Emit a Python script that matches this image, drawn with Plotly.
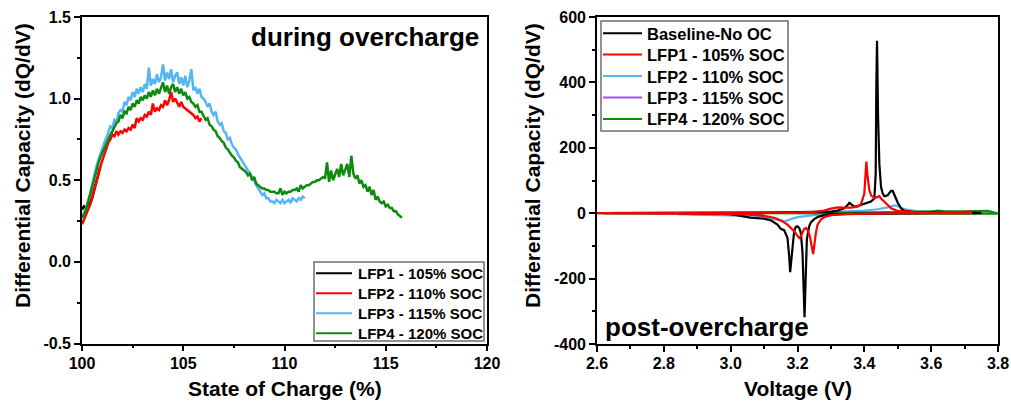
import plotly.graph_objects as go

# ---------------- Left panel data: during overcharge ----------------
soc_lfp1 = [100.0, 100.1, 100.2, 100.3, 100.4, 100.5, 100.6, 100.7, 100.8, 100.9]
dqdv_lfp1 = [0.32, 0.34, 0.33, 0.35, 0.36, 0.39, 0.44, 0.49, 0.54, 0.58]

soc_lfp2 = [round(100.0 + 0.1 * i, 1) for i in range(60)]
dqdv_lfp2 = [0.23, 0.26, 0.28, 0.31, 0.35, 0.39, 0.44, 0.49, 0.54, 0.58,
             0.62, 0.66, 0.70, 0.73, 0.75, 0.78, 0.77, 0.80, 0.78, 0.80,
             0.79, 0.81, 0.80, 0.82, 0.81, 0.84, 0.82, 0.88, 0.86, 0.88,
             0.87, 0.90, 0.89, 0.92, 0.90, 0.97, 0.92, 0.94, 0.93, 0.96,
             0.95, 0.99, 0.96, 0.99, 1.04, 0.98, 1.00, 0.97, 0.95, 0.98,
             0.95, 0.94, 0.93, 0.92, 0.91, 0.90, 0.88, 0.89, 0.86, 0.88]

soc_lfp3 = [round(100.0 + 0.1 * i, 1) for i in range(111)]
dqdv_lfp3 = [0.28, 0.30, 0.33, 0.37, 0.42, 0.47, 0.53, 0.58, 0.62, 0.66,
             0.70, 0.73, 0.76, 0.80, 0.83, 0.82, 0.87, 0.86, 0.91, 0.93,
             0.92, 0.98, 0.96, 1.01, 0.99, 1.04, 1.01, 1.06, 1.03, 1.07,
             1.04, 1.09, 1.06, 1.19, 1.08, 1.12, 1.09, 1.15, 1.10, 1.13,
             1.21, 1.11, 1.16, 1.12, 1.18, 1.10, 1.14, 1.16, 1.09, 1.13,
             1.08, 1.14, 1.07, 1.11, 1.18, 1.05, 1.07, 1.03, 1.06, 1.01,
             1.00, 0.98, 0.95, 0.97, 0.92, 0.90, 0.92, 0.86, 0.84, 0.85,
             0.80, 0.79, 0.75, 0.76, 0.72, 0.70, 0.69, 0.66, 0.64, 0.62,
             0.60, 0.58, 0.56, 0.54, 0.52, 0.50, 0.47, 0.45, 0.43, 0.41,
             0.42, 0.39, 0.39, 0.37, 0.37, 0.36, 0.38, 0.37, 0.36, 0.38,
             0.36, 0.37, 0.38, 0.36, 0.39, 0.38, 0.37, 0.39, 0.38, 0.40,
             0.39]

soc_lfp4 = [round(100.0 + 0.1 * i, 1) for i in range(159)]
dqdv_lfp4 = [0.27, 0.29, 0.32, 0.36, 0.41, 0.46, 0.51, 0.56, 0.60, 0.64,
             0.67, 0.70, 0.73, 0.76, 0.78, 0.80, 0.83, 0.85, 0.86, 0.90,
             0.88, 0.92, 0.91, 0.95, 0.93, 0.97, 0.95, 0.99, 0.97, 1.01,
             0.99, 1.02, 1.00, 1.04, 1.01, 1.05, 1.02, 1.06, 1.03, 1.07,
             1.10, 1.04, 1.08, 1.03, 1.07, 1.09, 1.04, 1.07, 1.03, 1.06,
             1.02, 1.04, 1.00, 1.01, 0.98, 0.97, 0.95, 0.96, 0.92, 0.92,
             0.89, 0.87, 0.88, 0.84, 0.83, 0.81, 0.80, 0.77, 0.76, 0.74,
             0.73, 0.70, 0.69, 0.67, 0.65, 0.64, 0.62, 0.61, 0.58, 0.57,
             0.56, 0.55, 0.53, 0.54, 0.50, 0.52, 0.48, 0.47, 0.46, 0.45,
             0.45, 0.44, 0.44, 0.43, 0.43, 0.43, 0.42, 0.42, 0.45, 0.41,
             0.43, 0.42, 0.43, 0.43, 0.44, 0.44, 0.45, 0.43, 0.47, 0.45,
             0.46, 0.47, 0.47, 0.48, 0.49, 0.49, 0.50, 0.50, 0.51, 0.52,
             0.51, 0.61, 0.49, 0.56, 0.50, 0.54, 0.57, 0.52, 0.60, 0.53,
             0.56, 0.60, 0.52, 0.65, 0.54, 0.51, 0.53, 0.48, 0.50, 0.46,
             0.47, 0.43, 0.46, 0.41, 0.44, 0.38, 0.40, 0.37, 0.36, 0.37,
             0.34, 0.35, 0.33, 0.33, 0.31, 0.31, 0.29, 0.28, 0.27]

left_names = ["LFP1 - 105% SOC", "LFP2 - 110% SOC", "LFP3 - 115% SOC", "LFP4 - 120% SOC"]

# ---------------- Right panel data: post-overcharge ----------------
v_base = [2.62, 2.7, 2.8, 2.9, 3.0, 3.1, 3.2, 3.25, 3.3, 3.32, 3.34, 3.35, 3.355, 3.36,
          3.37, 3.38, 3.39, 3.40, 3.41, 3.42, 3.43, 3.434, 3.436, 3.438, 3.441, 3.445,
          3.45, 3.455, 3.46, 3.47, 3.475, 3.48, 3.485, 3.49, 3.5, 3.51, 3.52, 3.55,
          3.6, 3.65, 3.7, 3.75,
          3.75, 3.6, 3.5, 3.4, 3.35, 3.3, 3.28, 3.26, 3.25, 3.24, 3.235, 3.228,
          3.224, 3.221, 3.219, 3.215, 3.21, 3.205, 3.2, 3.195, 3.19, 3.183, 3.178,
          3.175, 3.17, 3.16, 3.15, 3.14, 3.12, 3.1, 3.06, 3.03, 3.0, 2.9, 2.8, 2.62]
dq_base = [0, 0, 0, 0.5, 1, 2, 3, 3, 5, 8, 15, 25, 32, 28,
           20, 22, 25, 28, 32, 36, 45, 120, 400, 527, 300, 150,
           80, 60, 52, 55, 62, 68, 68, 55, 32, 15, 7, 3,
           2, 2, 3, 2,
           0, 0, 0, -1, -2, -3, -6, -12, -18, -28, -40, -80,
           -200, -318, -250, -120, -60, -45, -40, -42, -55, -120, -180,
           -130, -75, -52, -48, -35, -22, -17, -14, -8, -3, -0.5, 0, 0]

v_lfp1 = [2.6, 2.9, 3.0, 3.1, 3.2, 3.25, 3.28, 3.3, 3.32, 3.34, 3.36, 3.38, 3.39,
          3.40, 3.403, 3.406, 3.41, 3.415, 3.42, 3.43, 3.44, 3.445, 3.45, 3.46,
          3.47, 3.48, 3.5, 3.55, 3.6, 3.65, 3.7, 3.72,
          3.72, 3.5, 3.4, 3.35, 3.3, 3.28, 3.27, 3.26, 3.255, 3.25, 3.247, 3.244,
          3.238, 3.232, 3.226, 3.22, 3.215, 3.21, 3.205, 3.2, 3.19, 3.17, 3.15,
          3.13, 3.1, 3.05, 3.0, 2.6]
dq_lfp1 = [0, 0, 0.5, 1, 2, 4, 8, 14, 18, 17, 17, 20, 28,
           60, 120, 158, 110, 70, 55, 45, 50, 52, 45, 35,
           25, 15, 7, 3, 2, 2, 4, 5,
           0, 0, -1, -3, -6, -12, -20, -35, -60, -100, -125, -110,
           -75, -55, -45, -48, -60, -70, -76, -68, -55, -35, -22,
           -14, -8, -4, -2, 0]

v_lfp2 = [2.84, 2.9, 3.0, 3.05, 3.1, 3.13, 3.15, 3.163, 3.18, 3.2, 3.25, 3.3, 3.4, 3.6,
          3.6, 3.65, 3.56, 3.53, 3.51, 3.5, 3.49, 3.47, 3.44, 3.4, 3.35, 3.3, 3.2]
dq_lfp2 = [-3, -4, -5, -8, -12, -18, -22, -25, -18, -12, -6, -3, -1, 0,
           4, 3, 6, 10, 16, 22, 24, 18, 12, 8, 5, 3, 0]

v_lfp3 = [2.88, 2.95, 3.0, 3.05, 3.1]
dq_lfp3 = [-3, -4, -4, -3, -2]

v_lfp4 = [2.6, 3.0, 3.3, 3.5, 3.55, 3.6, 3.62, 3.64, 3.7, 3.75, 3.77,
          3.8, 3.6, 3.4, 3.2, 3.0]
dq_lfp4 = [0, 0, 1, 3, 4, 6, 8, 6, 6, 7, 7,
           -1, -1, -1, -1, 0]

right_names = ["Baseline-No OC", "LFP1 - 105% SOC", "LFP2 - 110% SOC",
               "LFP3 - 115% SOC", "LFP4 - 120% SOC"]

left_colors = ["#000000", "#ff0000", "#55b6f3", "#0e8a0e"]
right_colors = ["#000000", "#ff0000", "#55b6f3", "#a14ff0", "#0e8a0e"]

W, H = 1011, 402
FONT = "Arial, Liberation Sans, sans-serif"

fig = go.Figure()

left_series = [(soc_lfp1, dqdv_lfp1), (soc_lfp2, dqdv_lfp2),
               (soc_lfp3, dqdv_lfp3), (soc_lfp4, dqdv_lfp4)]
for (x, y), name, col in zip(left_series, left_names, left_colors):
    fig.add_trace(go.Scatter(x=x, y=y, mode="lines", name=name, showlegend=False,
                             line=dict(color=col, width=2.5), xaxis="x", yaxis="y"))

right_series = [(v_base, dq_base), (v_lfp1, dq_lfp1), (v_lfp2, dq_lfp2),
                (v_lfp3, dq_lfp3), (v_lfp4, dq_lfp4)]
right_order = [2, 3, 4, 0, 1]
for i in right_order:
    x, y = right_series[i]
    fig.add_trace(go.Scatter(x=x, y=y, mode="lines", name=right_names[i], showlegend=False,
                             line=dict(color=right_colors[i], width=2.2), xaxis="x2", yaxis="y2"))


def px(x):
    return x / W


def py(y):
    return 1 - y / H


tickfont = dict(family=FONT, size=16, color="black", weight="bold")
axis_common = dict(showline=True, linecolor="black", linewidth=1.6, mirror=True,
                   ticks="outside", ticklen=6, tickwidth=1.5, tickcolor="black",
                   showgrid=False, zeroline=False, tickfont=tickfont,
                   ticklabeloverflow="allow",
                   automargin=False, fixedrange=True)

fig.update_layout(
    template="none",
    width=W, height=H,
    margin=dict(l=0, r=0, t=0, b=0),
    paper_bgcolor="white", plot_bgcolor="white",
    showlegend=False,
    xaxis=dict(domain=[px(82), px(487)], range=[100, 120], anchor="y",
               tickmode="array", tickvals=[100, 105, 110, 115, 120],
               ticktext=["100", "105", "110", "115", "120"], ticklabelstandoff=-2,
               minor=dict(ticks="outside", ticklen=3, tickwidth=1.5, tickcolor="black",
                          tickmode="array", tickvals=[102.5, 107.5, 112.5, 117.5]),
               **axis_common),
    yaxis=dict(domain=[py(343.5), py(17)], range=[-0.5, 1.5], anchor="x",
               tickmode="array", tickvals=[-0.5, 0, 0.5, 1.0, 1.5],
               ticktext=["-0.5", "0.0", "0.5", "1.0", "1.5"],
               minor=dict(ticks="outside", ticklen=3, tickwidth=1.5, tickcolor="black",
                          tickmode="array", tickvals=[-0.25, 0.25, 0.75, 1.25]),
               **axis_common),
    xaxis2=dict(domain=[px(597), px(998)], range=[2.6, 3.8], anchor="y2",
                tickmode="array", tickvals=[2.6, 2.8, 3.0, 3.2, 3.4, 3.6, 3.8],
                ticktext=["2.6", "2.8", "3.0", "3.2", "3.4", "3.6", "3.8"], ticklabelstandoff=-2,
                minor=dict(ticks="outside", ticklen=3, tickwidth=1.5, tickcolor="black",
                           tickmode="array", tickvals=[2.7, 2.9, 3.1, 3.3, 3.5, 3.7]),
                **axis_common),
    yaxis2=dict(domain=[py(344), py(17)], range=[-400, 600], anchor="x2",
                tickmode="array", tickvals=[-400, -200, 0, 200, 400, 600],
                ticktext=["-400", "-200", "0", "200", "400", "600"],
                minor=dict(ticks="outside", ticklen=3, tickwidth=1.5, tickcolor="black",
                           tickmode="array", tickvals=[-300, -100, 100, 300, 500]),
                **axis_common),
)

annotations = []
shapes = []


def add_text(text, x, y, size, xanchor="center", yanchor="middle", angle=0):
    annotations.append(dict(text=text, x=px(x), y=py(y), xref="paper", yref="paper",
                            xanchor=xanchor, yanchor=yanchor, showarrow=False,
                            textangle=angle,
                            font=dict(family=FONT, size=size, color="black", weight="bold")))


# Axis titles
add_text("State of Charge (%)", 284.5, 388, 21)
add_text("Voltage (V)", 798, 388, 21)
add_text("Differential Capacity (dQ/dV)", 22, 166, 21, angle=-90)
add_text("Differential Capacity (dQ/dV)", 532, 166, 21, angle=-90)

# Panel labels
add_text("during overcharge", 481, 37, 26, xanchor="right")
add_text("post-overcharge", 603, 327, 26, xanchor="left")

# Legend boxes (drawn manually)
shapes.append(dict(type="rect", xref="paper", yref="paper", x0=px(314), x1=px(484),
                   y0=py(341), y1=py(262), line=dict(color="#6e6e6e", width=1.5),
                   fillcolor="white", layer="above"))
left_rows = [273.3, 293.3, 313.3, 333.3]
for name, col, yy in zip(left_names, left_colors, left_rows):
    shapes.append(dict(type="line", xref="paper", yref="paper", x0=px(316), x1=px(352),
                       y0=py(yy), y1=py(yy), line=dict(color=col, width=2), layer="above"))
    add_text(name, 356, yy + 0.5, 15, xanchor="left")

shapes.append(dict(type="rect", xref="paper", yref="paper", x0=px(601), x1=px(788),
                   y0=py(131), y1=py(21), line=dict(color="#6e6e6e", width=1.5),
                   fillcolor="white", layer="above"))
right_rows = [33.3, 54.6, 76.0, 97.5, 119.0]
for name, col, yy in zip(right_names, right_colors, right_rows):
    shapes.append(dict(type="line", xref="paper", yref="paper", x0=px(603), x1=px(642),
                       y0=py(yy), y1=py(yy), line=dict(color=col, width=2), layer="above"))
    add_text(name, 645, yy + 0.5, 16.5, xanchor="left")

fig.update_layout(annotations=annotations, shapes=shapes)

fig.write_html("out.html")
